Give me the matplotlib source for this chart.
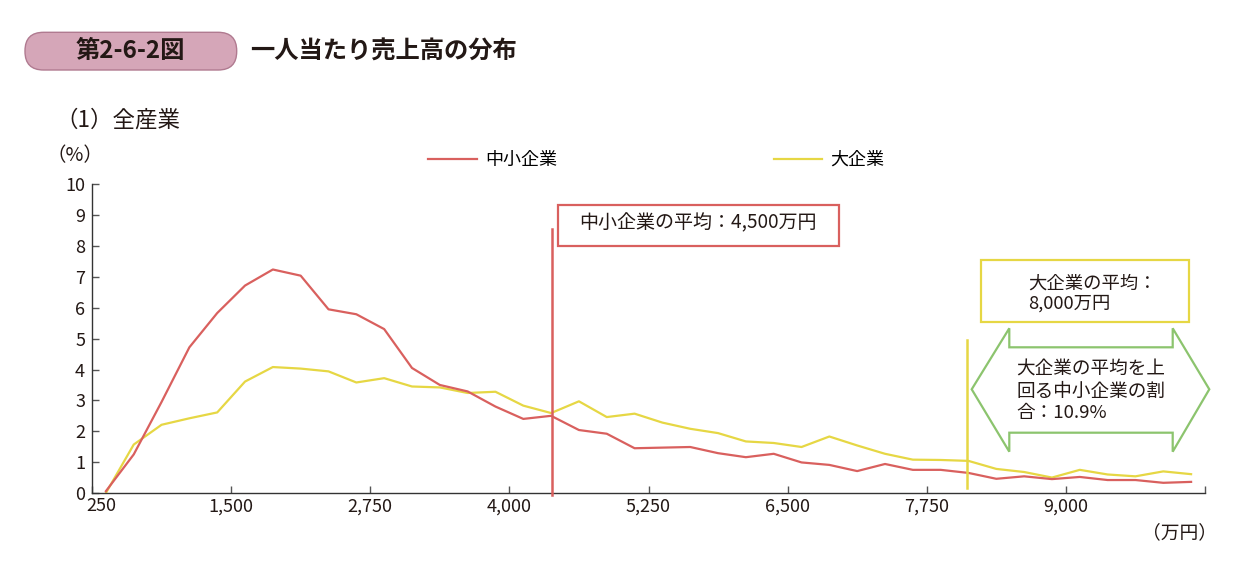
import numpy as np
import matplotlib
matplotlib.use("Agg")
import matplotlib.pyplot as plt
from matplotlib.patches import FancyBboxPatch, Rectangle, Polygon
import matplotlib.transforms as mtransforms

plt.rcParams['font.family'] = ['Noto Sans CJK JP', 'DejaVu Sans']

# ---- data ----
bin_width = 250
x_start = 250
n_bins = 40
x_mid = x_start + bin_width * (np.arange(n_bins) + 0.5)   # bin centres (万円)

sme = [0.06, 1.25, 2.95, 4.72, 5.83, 6.72, 7.24, 7.04, 5.95, 5.79,
       5.31, 4.05, 3.50, 3.29, 2.80, 2.40, 2.50, 2.04, 1.92, 1.45,
       1.47, 1.49, 1.29, 1.16, 1.27, 0.99, 0.91, 0.71, 0.94, 0.75,
       0.75, 0.65, 0.46, 0.54, 0.45, 0.52, 0.42, 0.42, 0.33, 0.36]
large = [0.00, 1.57, 2.21, 2.42, 2.61, 3.61, 4.08, 4.03, 3.94, 3.58,
         3.72, 3.45, 3.42, 3.24, 3.28, 2.83, 2.59, 2.97, 2.46, 2.57,
         2.28, 2.08, 1.94, 1.67, 1.62, 1.49, 1.83, 1.54, 1.27, 1.08,
         1.07, 1.04, 0.78, 0.68, 0.50, 0.75, 0.60, 0.54, 0.70, 0.61]

series_names = ["中小企業", "大企業"]
xticks = [250, 1500, 2750, 4000, 5250, 6500, 7750, 9000]
xtick_labels = ["250", "1,500", "2,750", "4,000", "5,250", "6,500", "7,750", "9,000"]
yticks = list(range(0, 11))

sme_mean_pos = 4385
large_mean_pos = 8110
sme_line_span = (-0.08, 8.54)
large_line_span = (0.16, 4.97)

RED = "#d9605e"
YEL = "#e6d744"
GRN = "#8cc46e"
TXT = "#231815"

W, H = 1242, 570
fig = plt.figure(figsize=(W / 100, H / 100), dpi=100)

def fx(px):
    return px / W

def fy(py):
    return 1 - py / H

ax = fig.add_axes([fx(92), fy(493), fx(1205) - fx(92), fy(184.3) - fy(493)])

l1, = ax.plot(x_mid, sme, color=RED, lw=1.6, label=series_names[0], zorder=3)
l2, = ax.plot(x_mid, large, color=YEL, lw=1.6, label=series_names[1], zorder=2)

ax.plot([sme_mean_pos, sme_mean_pos], sme_line_span, color=RED, lw=1.8, clip_on=False, zorder=4)
ax.plot([large_mean_pos, large_mean_pos], large_line_span, color=YEL, lw=1.8, clip_on=False, zorder=4)

ax.set_xlim(x_start, x_start + bin_width * n_bins)
ax.set_ylim(0, 10)
ax.set_xticks(xticks)
ax.set_xticklabels(xtick_labels)
ax.set_xticks([x_start + bin_width * n_bins], minor=True)
ax.set_yticks(yticks)
for s in ["top", "right"]:
    ax.spines[s].set_visible(False)
for s in ["left", "bottom"]:
    ax.spines[s].set_color("#333333")
    ax.spines[s].set_linewidth(1.0)
ax.tick_params(axis="both", direction="in", length=5, width=1, color="#555555",
               labelsize=13, labelcolor=TXT)
ax.tick_params(axis="x", which="minor", direction="in", length=5, width=1, color="#555555")
ax.tick_params(axis="y", pad=5)
ax.tick_params(axis="x", pad=3)

# shift first x label slightly right
lab0 = ax.get_xticklabels()[0]
lab0.set_transform(lab0.get_transform() + mtransforms.ScaledTranslation(9 / 100, 0, fig.dpi_scale_trans))

# legend
fig.legend(handles=[l1, l2], loc="center left", bbox_to_anchor=(fx(428), fy(160)),
           bbox_transform=fig.transFigure, ncol=2, frameon=False, fontsize=13,
           handlelength=2.7, handletextpad=0.45, columnspacing=12.0,
           borderpad=0, borderaxespad=0)

# axis unit labels
fig.text(fx(46), fy(156), "（%）", fontsize=14, color=TXT, ha="left", va="center")
fig.text(fx(1217), fy(533), "（万円）", fontsize=13.5, color=TXT, ha="right", va="center")

# title badge
badge = FancyBboxPatch((25 / 100, (H - 70) / 100), 211.7 / 100, 37.7 / 100,
                       boxstyle="round,pad=0,rounding_size=0.185",
                       transform=fig.dpi_scale_trans, facecolor="#d5a6b8",
                       edgecolor="#b07a90", linewidth=1.0)
fig.add_artist(badge)
fig.text(fx(130), fy(51.5), "第2-6-2図", fontsize=17.5, fontweight="bold", color=TXT,
         ha="center", va="center")
fig.text(fx(250), fy(51.5), "一人当たり売上高の分布", fontsize=17.5, fontweight="bold",
         color=TXT, ha="left", va="center")
fig.text(fx(55), fy(120), "（1）全産業", fontsize=16.2, color=TXT, ha="left", va="center")

# red mean box
fig.add_artist(Rectangle((fx(558.3), fy(246)), fx(839.3) - fx(558.3), fy(205) - fy(246),
                         transform=fig.transFigure, facecolor="white", edgecolor=RED, lw=1.6))
fig.text(fx(579), fy(223), "中小企業の平均：4,500万円", fontsize=13.7, color=TXT,
         ha="left", va="center")

# yellow mean box
fig.add_artist(Rectangle((fx(980.7), fy(321.7)), fx(1189.3) - fx(980.7), fy(260) - fy(321.7),
                         transform=fig.transFigure, facecolor="white", edgecolor=YEL, lw=1.6))
fig.text(fx(1028), fy(283.3), "大企業の平均：", fontsize=13.2, color=TXT, ha="left", va="center")
fig.text(fx(1028), fy(303.3), "8,000万円", fontsize=13.2, color=TXT, ha="left", va="center")

# green double arrow
arrow_px = [(971.7, 389.3), (1009.3, 328.3), (1009.3, 347.3), (1172.7, 347.3),
            (1172.7, 328.3), (1209.3, 389.3), (1172.7, 451.7), (1172.7, 432.7),
            (1009.3, 432.7), (1009.3, 451.7)]
fig.add_artist(Polygon([(fx(a), fy(b)) for a, b in arrow_px], closed=True,
                       transform=fig.transFigure, facecolor="white", edgecolor=GRN, lw=1.6))
for txt, yy in [("大企業の平均を上", 369.3), ("回る中小企業の割", 391.5), ("合：10.9%", 413.3)]:
    fig.text(fx(1016), fy(yy), txt, fontsize=13.4, color=TXT, ha="left", va="center")

fig.savefig("out.png", dpi=100, facecolor="white")
